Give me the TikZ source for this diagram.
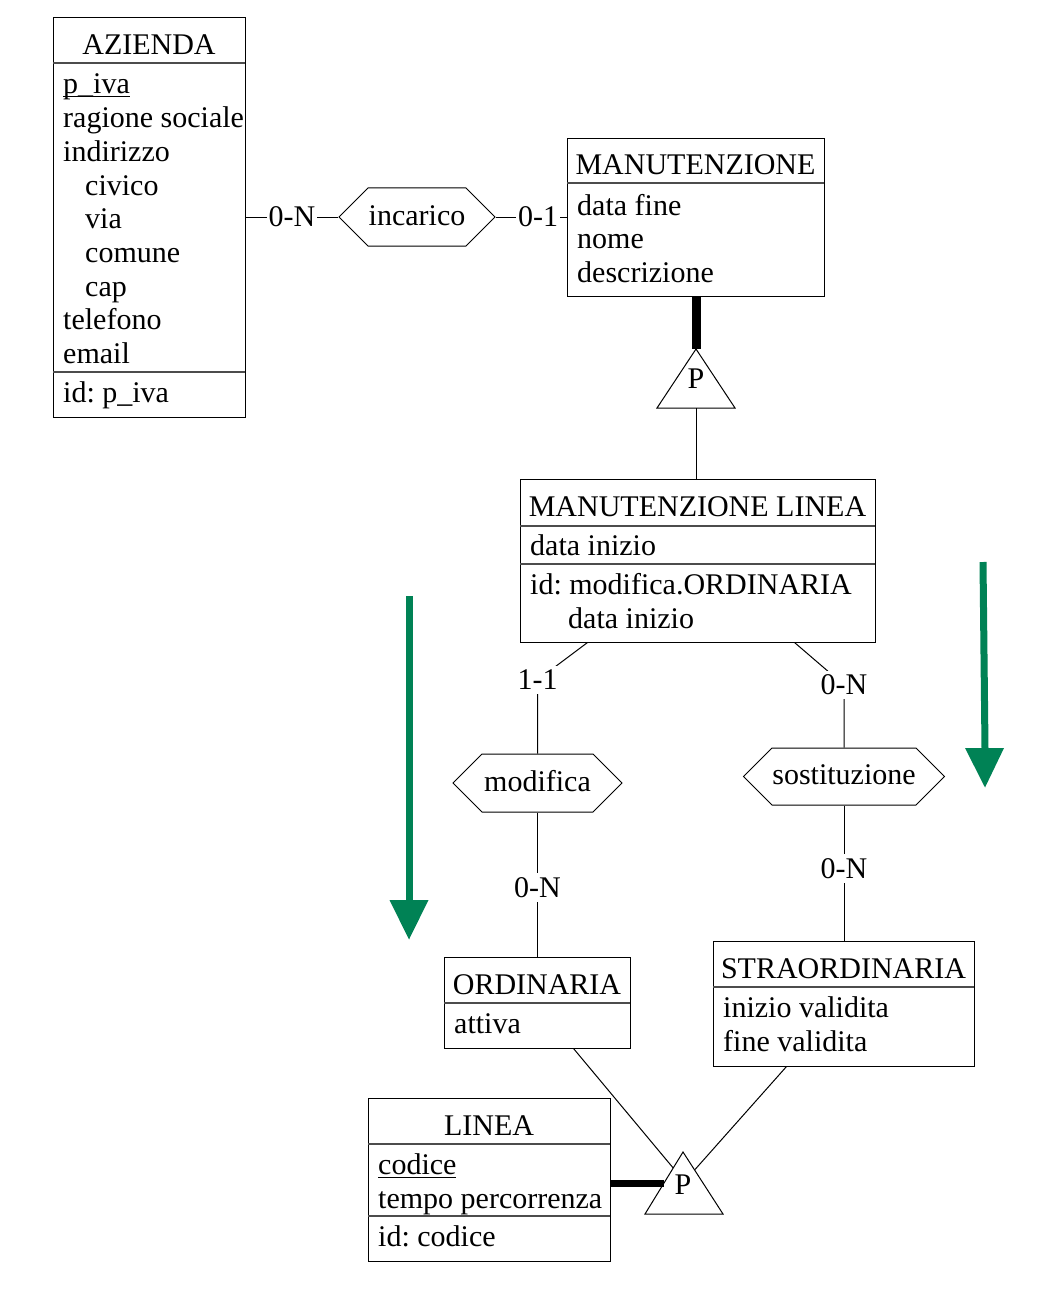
\documentclass[tikz,border=0pt]{standalone}
\usepackage{fontspec}
\setmainfont{Liberation Serif}
\usetikzlibrary{shapes.symbols,calc}
\definecolor{arrowgreen}{RGB}{0,130,85}
\newlength\ulwd
\newcommand\ulx[1]{\settowidth\ulwd{#1}\rlap{\rule[-3.5pt]{\ulwd}{1pt}}#1}
\tikzset{
 entity/.style={draw=black, line width=1pt, inner sep=0pt, rectangle},
 sepline/.style={draw=black!70, line width=1.2pt},
 attr/.style={anchor=base west, inner sep=0pt},
 etitle/.style={anchor=base, inner sep=0pt},
 relation/.style={draw=black, line width=1pt, signal, signal to=west and east, signal pointer angle=90, inner sep=0pt, text height=18pt, text depth=2pt},
 link/.style={draw=black, line width=1pt},
 card/.style={fill=white, inner xsep=2pt, inner ysep=4pt},
 isa/.style={draw=black, line width=1pt, line join=miter},
 strong/.style={draw=black, line width=9pt},
 strongb/.style={draw=black, line width=7pt},
 bigarrow/.style={draw=arrowgreen, line width=7pt},
 arrowhead/.style={fill=arrowgreen},
}
\begin{document}
\begin{tikzpicture}[x=1pt,y=-1pt,font=\fontsize{30}{33.6}\selectfont\frenchspacing]
\useasboundingbox (0,0) rectangle (1042,1300);

% ---------- AZIENDA
\node[entity, minimum width=192pt, minimum height=399pt] (azienda) at (149,217.5) {};
\node[etitle] (aztitle) at (149,55) {AZIENDA};
\draw[sepline] (53,63) -- (245,63);
\draw[sepline] (53,372) -- (245,372);
\node[attr] (az1) at (63,94) {\ulx{p\_iva}};
\node[attr] (az2) at (63,128) {ragione sociale};
\node[attr] (az3) at (63,162) {indirizzo};
\node[attr] (az4) at (85,195) {civico};
\node[attr] (az5) at (85,228) {via};
\node[attr] (az6) at (85,262) {comune};
\node[attr] (az7) at (85,296) {cap};
\node[attr] (az8) at (63,329) {telefono};
\node[attr] (az9) at (63,363) {email};
\node[attr] (azid) at (63,402) {id: p\_iva};

% ---------- MANUTENZIONE
\node[entity, minimum width=257pt, minimum height=157pt] (manut) at (695.5,217.5) {};
\node[etitle] (mtitle) at (695.5,175) {MANUTENZIONE};
\draw[sepline] (567,183) -- (824,183);
\node[attr] (m1) at (577,215) {data fine};
\node[attr] (m2) at (577,248) {nome};
\node[attr] (m3) at (577,282) {descrizione};

% ---------- MANUTENZIONE LINEA
\node[entity, minimum width=355pt, minimum height=163pt] (mlinea) at (697.5,560.5) {};
\node[etitle] (mltitle) at (697.5,516) {MANUTENZIONE LINEA};
\draw[sepline] (520,526) -- (875,526);
\draw[sepline] (520,564) -- (875,564);
\node[attr] (ml1) at (530,555) {data inizio};
\node[attr] (mlid) at (530,594.5) {id: modifica.ORDINARIA};
\node[attr] (mlid2) at (568,628) {data inizio};

% ---------- ORDINARIA
\node[entity, minimum width=186pt, minimum height=91pt] (ordin) at (537,1002.5) {};
\node[etitle] (otitle) at (537,994) {ORDINARIA};
\draw[sepline] (444,1003) -- (630,1003);
\node[attr] (o1) at (454,1033) {attiva};

% ---------- STRAORDINARIA
\node[entity, minimum width=261pt, minimum height=125pt] (straord) at (843.5,1003.5) {};
\node[etitle] (stitle) at (843.5,978) {STRAORDINARIA};
\draw[sepline] (713,987) -- (974,987);
\node[attr] (s1) at (723,1017) {inizio validita};
\node[attr] (s2) at (723,1051) {fine validita};

% ---------- LINEA
\node[entity, minimum width=242pt, minimum height=163pt] (linea) at (489,1179.5) {};
\node[etitle] (ltitle) at (489,1135) {LINEA};
\draw[sepline] (368,1144) -- (610,1144);
\draw[sepline] (368,1216) -- (610,1216);
\node[attr] (l1) at (378,1174) {\ulx{codice}};
\node[attr] (l2) at (378,1208) {tempo percorrenza};
\node[attr] (lid) at (378,1246) {id: codice};

% ---------- relationships
\node[relation, minimum width=156pt, minimum height=58pt] (incarico) at (417,217) {incarico};
\node[relation, minimum width=169pt, minimum height=58pt] (modifica) at (537.5,783) {modifica};
\node[relation, minimum width=201pt, minimum height=57pt] (sostit) at (844,776.5) {sostituzione};

\draw[link] (azienda.east |- incarico.west) -- node[card]{0-N} (incarico.west);
\draw[link] (incarico.east) -- node[card, pos=0.6]{0-1} (incarico.east -| manut.west);

\coordinate (k1) at (537.5,680);
\draw[link] ([xshift=68pt]mlinea.south west) -- (k1) -- (modifica.north);
\node[card] (c11) at (k1) {1-1};

\coordinate (k2) at (844,685);
\draw[link] ([xshift=275pt]mlinea.south west) -- (k2) -- (sostit.north);
\node[card] (c0n) at (k2) {0-N};

\draw[link] (modifica.south) -- node[card, pos=0.52]{0-N} (modifica.south |- ordin.north);
\draw[link] (sostit.south) -- node[card, pos=0.467]{0-N} (sostit.south |- straord.north);

% ---------- top generalisation
\coordinate (t1a) at (696,349);
\coordinate (t1l) at (657,408);
\coordinate (t1r) at (735,408);
\coordinate (t1b) at (696,408);
\draw[isa] (t1a) -- (t1l) -- (t1r) -- cycle;
\node (p1) at (696,379) {P};
\draw[strong] (manut.south -| t1a) -- (t1a);
\draw[link] (t1b) -- (t1b |- mlinea.north);

% ---------- bottom generalisation
\coordinate (t2a) at (683,1152);
\coordinate (t2l) at (645,1214);
\coordinate (t2r) at (723,1214);
\draw[isa] (t2a) -- (t2l) -- (t2r) -- cycle;
\node (p2) at (683,1185) {P};
\coordinate (t2m) at ($(t2l)!0.5!(t2a)$);
\coordinate (t2p) at ($(t2l)!0.742!(t2a)$);
\coordinate (t2q) at ($(t2a)!0.29!(t2r)$);
\draw[strongb] (t2m -| linea.east) -- (t2m);
\draw[link] ([xshift=130pt]ordin.south west) -- (t2p);
\draw[link] ([xshift=74pt]straord.south west) -- (t2q);

% ---------- green arrows
\draw[bigarrow] (409,596) -- (409,901);
\fill[arrowhead] (389.5,900) -- (428.5,900) -- (409,939.5) -- cycle;
\draw[bigarrow] (983,562) -- (985,749);
\fill[arrowhead] (965,748) -- (1004,748) -- (985,787.5) -- cycle;
\end{tikzpicture}
\end{document}
